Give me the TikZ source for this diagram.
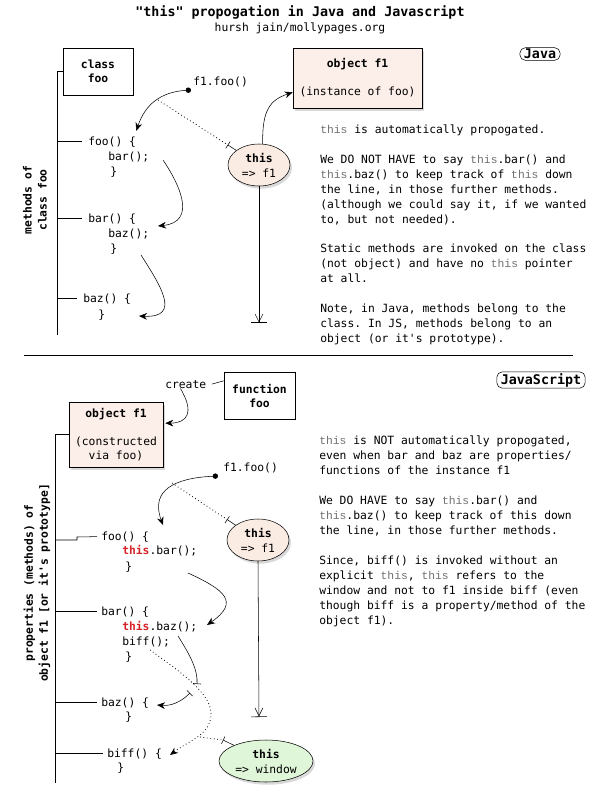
\documentclass[tikz,border=0pt]{standalone}
\usepackage{fontspec}
\setmonofont{DejaVu Sans Mono}
\renewcommand{\familydefault}{\ttdefault}
\newfontfamily\kwfont{Liberation Mono}
\usetikzlibrary{arrows.meta,shapes.geometric,shadows,calc}

\definecolor{objpink}{HTML}{FCEEE8}
\definecolor{thispink}{HTML}{FAEBE3}
\definecolor{wingreen}{HTML}{E0F6D9}
\definecolor{kwgray}{HTML}{707070}
\definecolor{kwred}{HTML}{D62428}

% the keyword: grey in the notes, red in the code
\newcommand{\kwthis}{{\kwfont\color{kwgray}this}}
\newcommand{\redthis}{{\bfseries\color{kwred}this}}

\tikzset{
  objbox/.style={draw, fill=objpink, align=center, inner sep=0pt,
    font=\fontsize{8.5}{10.5}\selectfont,
    drop shadow={opacity=0.3, shadow xshift=1.5pt, shadow yshift=-2pt}},
  plainbox/.style={draw, align=center, inner sep=0pt,
    font=\fontsize{8.5}{10.5}\selectfont\bfseries},
  thisell/.style={ellipse, draw, align=center, inner sep=0pt, fill=thispink,
    minimum width=46.5pt, minimum height=31.5pt,
    drop shadow={opacity=0.3, shadow xshift=1.5pt, shadow yshift=-2pt}},
  lang/.style={draw, rounded corners=4pt, inner xsep=3pt, inner ysep=1pt,
    font=\fontsize{10}{12}\selectfont\bfseries},
  code/.style={anchor=base west, inner sep=0pt},
  para/.style={anchor=north west, align=left, inner sep=0pt},
  call/.style={-{Stealth[length=6pt,width=5pt]}},
  start/.style={{Circle[length=4pt]}-{Stealth[length=6pt,width=5pt]}},
  hint/.style={dotted, line width=0.6pt},
  tail/.style={-{Straight Barb[length=6pt,width=6pt]Bar[width=12pt]}},
}

\begin{document}
\fontsize{8.5}{11.25}\selectfont
\begin{tikzpicture}[x=0.75pt, y=-0.75pt]
    \useasboundingbox (0,0) rectangle (600,800);

    % the title
    \node[font=\fontsize{10}{12}\selectfont\bfseries] (title) at (300,12) {"this" propogation in Java and Javascript};
    \node (author) at (300,28) {hursh jain/mollypages.org};

    % ---------------- Java ----------------
    \node[lang] (jtag) at (540,54) {Java};
    \node[plainbox, minimum width=52.5pt, minimum height=35.25pt] (jclass) at (98,71.5) {class\\foo};
    \node[objbox, minimum width=96.75pt, minimum height=45pt] (jobj) at (357.5,78) {\textbf{object f1}\\[10.5pt](instance of foo)};
    \node[rotate=90, align=center, font=\bfseries, inner sep=0pt] (jlabel) at (35,200) {methods of\\class foo};

    % the methods (code lines)
    \node[code] (jfoo) at (88,145) {foo() \{};
    \node[code] (jfoob) at (108,160) {bar();};
    \node[code] (jfooe) at (110,175) {\}};
    \node[code] (jbar) at (88,222) {bar() \{};
    \node[code] (jbarb) at (108,237) {baz();};
    \node[code] (jbare) at (110,252) {\}};
    \node[code] (jbaz) at (83,302) {baz() \{};
    \node[code] (jbaze) at (98,318) {\}};

    % the rail with its branches
    \coordinate (jrail) at (57,71.5);
    \coordinate (jrailend) at (57,335);
    \draw (jclass.west) -- (jrail) -- (jrailend);
    \draw (jrail |- jfoo.west) -- ([xshift=-4.5pt]jfoo.west);
    \draw (jrail |- jbar.west) -- ([xshift=-4.5pt]jbar.west);
    \draw (jrail |- jbaz.west) -- ([xshift=-4.5pt]jbaz.west);

    % the call and this
    \node[thisell] (jthis) at (259,165) {\textbf{this}\\=> f1};
    \coordinate (jcall) at (191,90);
    \node[code] (jcalltxt) at (193,85) {f1.foo()};
    \coordinate (jcurve) at (158,100);
    \coordinate (jtick) at ($(jcurve)!0.69!(jthis)$);
    \coordinate (jend) at (259,323);
    \draw[start] (jcall) .. controls (160,92) and (145,105) .. ([yshift=4pt]jfoo.north east);
    \draw[hint] (jcurve) -- (jtick);
    \draw[{Bar[width=6pt]}-] (jtick) -- (jthis);
    \draw[call] (jthis.80) .. controls (262,110) and (270,100) .. ([yshift=12pt]jobj.south west);
    \draw[tail] (jthis.south) -- (jend);

    % calls from method to method
    \coordinate (jout1) at (163,160);
    \coordinate (jin1) at (158,226);
    \coordinate (jout2) at (141,255);
    \coordinate (jin2) at (139,316);
    \draw[call] (jout1) .. controls (180,185) and (197,222) .. (jin1);
    \draw[call] (jout2) .. controls (160,285) and (182,318) .. (jin2);

    % the notes
    \node[para] (jn1) at (320,125) {\kwthis{} is automatically propogated.};
    \node[para] (jn2) at (320,155) {We DO NOT HAVE to say \kwthis.bar() and\\\kwthis.baz() to keep track of \kwthis{} down\\the line, in those further methods.\\(although we could say it, if we wanted\\to, but not needed).};
    \node[para] (jn3) at (320,244) {Static methods are invoked on the class\\(not object) and have no \kwthis{} pointer\\at all.};
    \node[para] (jn4) at (320,304) {Note, in Java, methods belong to the\\class. In JS, methods belong to an\\object (or it's prototype).};

    \draw (24,355) -- (573,355);

    % ---------------- JavaScript ----------------
    \node[lang] (jstag) at (541,380) {JavaScript};
    \node[plainbox, minimum width=53.25pt, minimum height=35.25pt] (ffoo) at (259.5,395.5) {function\\foo};
    \node[code] (create) at (165,388) {create};
    \node[objbox, minimum width=70.5pt, minimum height=48.75pt] (jsobj) at (116,434.5) {\textbf{object f1}\\[11pt](constructed\\via foo)};
    \node[rotate=90, align=center, font=\bfseries, inner sep=0pt] (jslabel) at (37,583) {properties (methods) of\\object f1 [or it's prototype]};
    \draw ([yshift=11pt]ffoo.west) -- ([xshift=4pt]create.east);
    \draw[call] ([xshift=-4pt]create.south) .. controls (195,413) and (187,423) .. ([xshift=1.5pt,yshift=8.5pt]jsobj.east);

    % the properties (code lines)
    \node[code] (jsfoo) at (101,540) {foo() \{};
    \node[code] (jsfoob) at (122,554) {\redthis.bar();};
    \node[code] (jsfooe) at (125,570) {\}};
    \node[code] (jsbar) at (101,615) {bar() \{};
    \node[code] (jsbarb) at (122,630) {\redthis.baz();};
    \node[code] (jsbarc) at (122,645) {biff();};
    \node[code] (jsbare) at (125,660) {\}};
    \node[code] (jsbaz) at (101,706) {baz() \{};
    \node[code] (jsbaze) at (125,720) {\}};
    \node[code] (jsbiff) at (107,757) {biff() \{};
    \node[code] (jsbiffe) at (117,771) {\}};

    % the rail with its branches
    \coordinate (jsrail) at (55,434.5);
    \coordinate (jsrailend) at (55,783);
    \draw (jsobj.west) -- (jsrail) -- (jsrailend);
    \draw (jsrail |- 0,540) -- (77,540) -- (77,537) -- ([xshift=-3pt]jsfoo.west);
    \draw (jsrail |- jsbar.west) -- ([xshift=-3pt]jsbar.west);
    \draw (jsrail |- jsbaz.west) -- ([xshift=-3pt]jsbaz.west);
    \draw (jsrail |- jsbiff.west) -- ([xshift=-3pt]jsbiff.west);

    % the call and this
    \node[thisell] (jsthis) at (258,540) {\textbf{this}\\=> f1};
    \node[thisell, fill=wingreen, minimum width=70.5pt] (jswin) at (266,761) {\textbf{this}\\=> window};
    \coordinate (jscall) at (218,476);
    \node[code] (jscalltxt) at (223,471) {f1.foo()};
    \coordinate (jscurve) at (172,483);
    \coordinate (jstick) at ($(jscurve)!0.64!(jsthis)$);
    \coordinate (jsin1) at (163,525);
    \coordinate (jsend) at (259,717);
    \draw[start] (jscall) .. controls (175,478) and (150,490) .. (jsin1);
    \draw[hint] (jscurve) -- (jstick);
    \draw[{Bar[width=6pt]}-] (jstick) -- (jsthis);
    \draw[tail] (jsthis.south) -- (jsend);

    % calls from property to property
    \coordinate (jsout1) at (188,573);
    \coordinate (jsin2) at (207,625);
    \coordinate (jsout2) at (178,636);
    \coordinate (jscut1) at (197,684);
    \coordinate (jscut2) at (190,693);
    \coordinate (jsin3) at (157,705);
    \draw[call] (jsout1) .. controls (225,590) and (240,602) .. (jsin2);
    \draw[-{Bar[width=6pt]}] (jsout2) .. controls (190,655) and (198,670) .. (jscut1);
    \draw[{Bar[width=6pt]}-{Stealth[length=6pt,width=5pt]}] (jscut2) .. controls (180,703) and (170,706) .. (jsin3);

    % biff() is called without this
    \coordinate (jsout3) at (150,650);
    \coordinate (jsbend) at (211,715);
    \coordinate (jsin4) at (170,755);
    \coordinate (jswhere) at (200,737);
    \coordinate (jswtick) at (223,740);
    \draw[hint, -{Stealth[length=6pt,width=5pt]}] (jsout3) .. controls (185,675) and (212,695) .. (jsbend) .. controls (210,735) and (190,740) .. (jsin4);
    \draw[hint] (jswhere) -- (jswtick);
    \draw[{Bar[width=6pt]}-] (jswtick) -- (jswin);

    % the notes
    \node[para] (jsn1) at (319,436) {\kwthis{} is NOT automatically propogated,\\even when bar and baz are properties/\\functions of the instance f1};
    \node[para] (jsn2) at (319,496) {We DO HAVE to say \kwthis.bar() and\\\kwthis.baz() to keep track of this down\\the line, in those further methods.};
    \node[para] (jsn3) at (319,556) {Since, biff() is invoked without an\\explicit \kwthis, \kwthis{} refers to the\\window and not to f1 inside biff (even\\though biff is a property/method of the\\object f1).};
\end{tikzpicture}
\end{document}
